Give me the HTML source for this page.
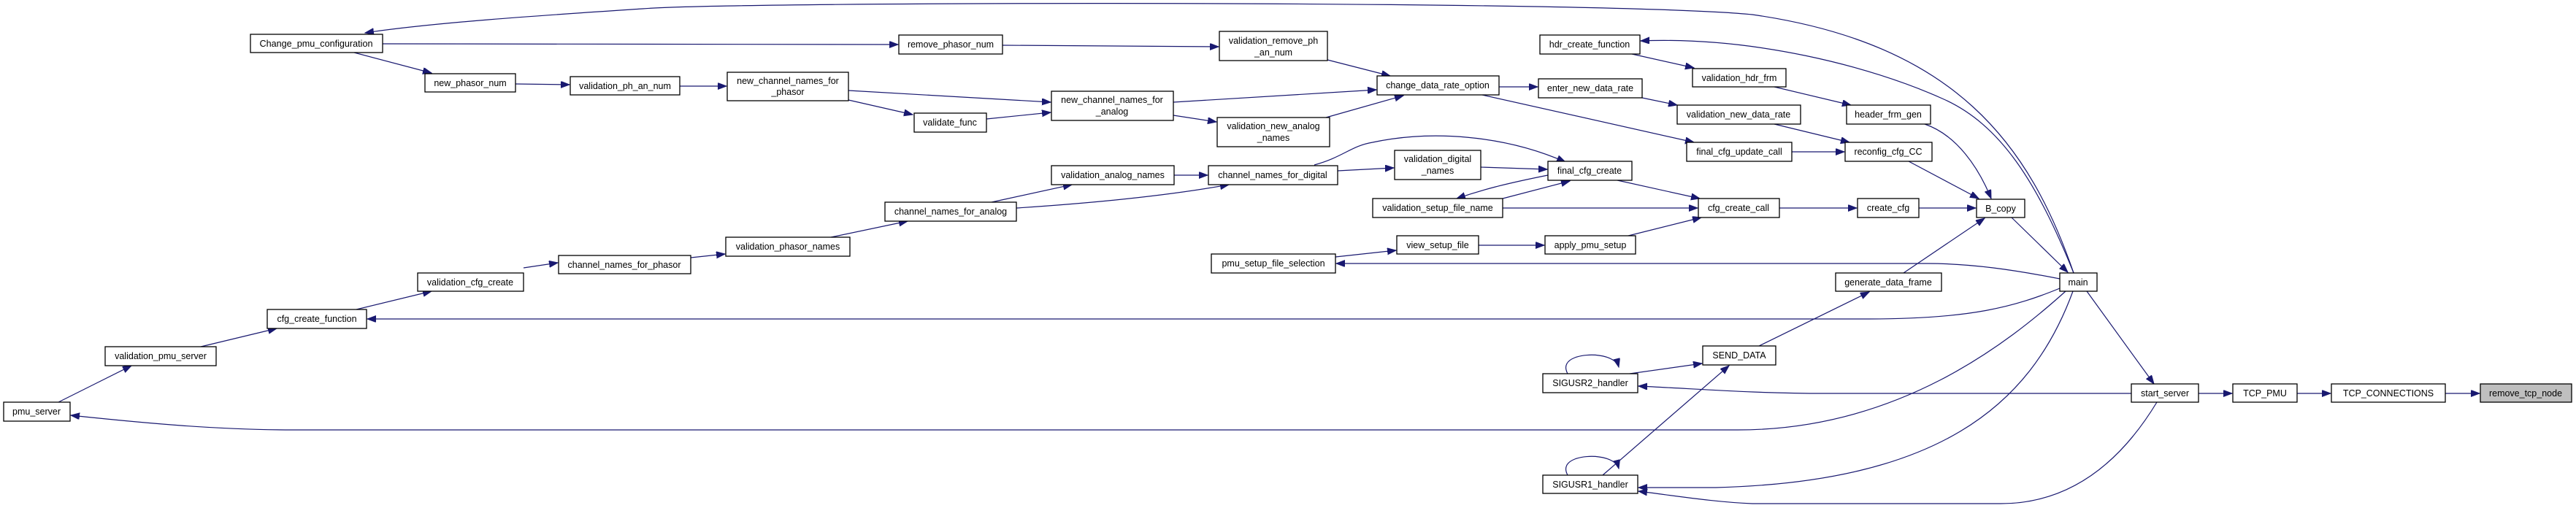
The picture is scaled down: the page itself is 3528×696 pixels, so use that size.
<!DOCTYPE html>
<html><head><meta charset="utf-8"><style>
html,body{margin:0;padding:0;background:#fff;}
svg{display:block;}
text{font-family:"Liberation Sans",Arial,sans-serif;font-size:12.5px;fill:#000;text-anchor:middle;}
.n{fill:#fff;stroke:#000;stroke-width:1.3;}
.e{fill:none;stroke:#191970;stroke-width:1.2;}
</style></head><body>
<svg width="3528" height="696" viewBox="0 0 3528 696" xmlns="http://www.w3.org/2000/svg">
<defs><marker id="a" markerWidth="13" markerHeight="10" refX="12" refY="4.5" orient="auto" markerUnits="userSpaceOnUse"><path d="M0,0 L12,4.5 L0,9 z" fill="#191970" stroke="#191970"/></marker></defs>
<g class="e" marker-end="url(#a)">
<path d="M2840,374 C2780,200 2680,60 2400,20 C2200,0 1000,2 880,12 C760,20 600,30 500,45"/>
<path d="M524,60 L1230,61"/>
<path d="M485,72 L591,100"/>
<path d="M706,115 L780,116"/>
<path d="M931,118 L995,118"/>
<path d="M1373,62 L1669,64"/>
<path d="M1818,82 L1904,104"/>
<path d="M1162,124 L1439,140"/>
<path d="M1162,137 L1250,157"/>
<path d="M1351,163 L1439,154"/>
<path d="M1607,140 L1885,123"/>
<path d="M1607,158 L1666,167"/>
<path d="M1816,161 L1922,131"/>
<path d="M2053,119 L2106,119"/>
<path d="M2030,130 L2320,195"/>
<path d="M2235,74 L2320,93"/>
<path d="M2430,119 L2535,144"/>
<path d="M2249,134 L2297,144"/>
<path d="M2430,170 L2533,195"/>
<path d="M2454,208 L2526,208"/>
<path d="M2636,170 C2680,185 2710,230 2727,272"/>
<path d="M2614,221 L2710,272"/>
<path d="M2215,247 L2328,272"/>
<path d="M2058,285 L2325,285"/>
<path d="M2058,272 L2150,248"/>
<path d="M2120,240 C2060,252 2030,260 1995,272"/>
<path d="M2028,229 L2119,232"/>
<path d="M1832,234 L1909,230"/>
<path d="M1800,226 C1840,215 1850,200 1880,195 C1960,178 2060,185 2144,222"/>
<path d="M1608,240 L1654,240"/>
<path d="M1358,277 L1468,253"/>
<path d="M1392,285 C1500,278 1600,268 1683,253"/>
<path d="M1138,325 L1243,303"/>
<path d="M946,353 L993,348"/>
<path d="M717,367 L764,360"/>
<path d="M488,424 L591,399"/>
<path d="M275,475 L379,450"/>
<path d="M80,551 L180,501"/>
<path d="M2821,395 C2760,420 2700,437 2560,437 L503,437"/>
<path d="M2829,399 C2750,470 2600,589 2380,589 L400,589 C300,589 200,580 97,569"/>
<path d="M2437,285 L2543,285"/>
<path d="M2628,285 L2706,285"/>
<path d="M2230,323 L2330,298"/>
<path d="M2025,336 L2115,336"/>
<path d="M1829,352 L1912,343"/>
<path d="M2821,382 C2760,370 2700,361 2640,361 L1830,361"/>
<path d="M2607,374 L2718,299"/>
<path d="M2755,298 L2832,373"/>
<path d="M2409,474 L2560,400"/>
<path d="M2232,512 L2331,498"/>
<path d="M2195,651 L2368,501"/>
<path d="M2147,512 C2135,490 2170,484 2190,487 C2205,489 2215,495 2217,503"/>
<path d="M2147,651 C2135,629 2170,623 2190,626 C2205,628 2215,634 2217,642"/>
<path d="M2919,539 L2500,539 C2400,539 2330,533 2244,529"/>
<path d="M2839,399 C2780,560 2650,660 2350,668 L2244,668"/>
<path d="M2954,551 C2900,640 2830,690 2740,690 L2400,690 C2350,688 2300,680 2244,673"/>
<path d="M2858,399 L2950,526"/>
<path d="M3011,539 L3057,539"/>
<path d="M3146,539 L3192,539"/>
<path d="M3349,539 L3396,539"/>
<path d="M2840,374 C2790,250 2740,170 2660,135 C2560,90 2400,50 2247,56"/>
</g>
<g>
<rect class="n" x="343" y="47" width="181" height="25"/><text x="433" y="64" textLength="155" lengthAdjust="spacingAndGlyphs">Change_pmu_configuration</text>
<rect class="n" x="582" y="101" width="124" height="25"/><text x="644" y="118">new_phasor_num</text>
<rect class="n" x="781" y="105" width="150" height="25"/><text x="856" y="122">validation_ph_an_num</text>
<rect class="n" x="5" y="551" width="91" height="26"/><text x="50" y="568">pmu_server</text>
<rect class="n" x="144" y="475" width="152" height="26"/><text x="220" y="492">validation_pmu_server</text>
<rect class="n" x="366" y="424" width="136" height="26"/><text x="434" y="441">cfg_create_function</text>
<rect class="n" x="572" y="374" width="145" height="25"/><text x="644" y="391">validation_cfg_create</text>
<rect class="n" x="765" y="350" width="181" height="25"/><text x="855" y="367">channel_names_for_phasor</text>
<rect class="n" x="1231" y="48" width="142" height="26"/><text x="1302" y="65">remove_phasor_num</text>
<rect class="n" x="1670" y="43" width="148" height="40"/><text x="1744" y="60">validation_remove_ph</text><text x="1744" y="76">_an_num</text>
<rect class="n" x="996" y="99" width="166" height="39"/><text x="1079" y="115">new_channel_names_for</text><text x="1079" y="130">_phasor</text>
<rect class="n" x="1252" y="155" width="99" height="26"/><text x="1301" y="172">validate_func</text>
<rect class="n" x="1440" y="125" width="167" height="40"/><text x="1523" y="141">new_channel_names_for</text><text x="1523" y="157">_analog</text>
<rect class="n" x="1667" y="161" width="154" height="40"/><text x="1744" y="177">validation_new_analog</text><text x="1744" y="193">_names</text>
<rect class="n" x="1440" y="227" width="168" height="26"/><text x="1524" y="244">validation_analog_names</text>
<rect class="n" x="1655" y="227" width="177" height="26"/><text x="1743" y="244">channel_names_for_digital</text>
<rect class="n" x="1212" y="277" width="180" height="26"/><text x="1302" y="294">channel_names_for_analog</text>
<rect class="n" x="994" y="325" width="170" height="26"/><text x="1079" y="342">validation_phasor_names</text>
<rect class="n" x="1659" y="348" width="170" height="26"/><text x="1744" y="365">pmu_setup_file_selection</text>
<rect class="n" x="1886" y="104" width="167" height="26"/><text x="1969" y="121">change_data_rate_option</text>
<rect class="n" x="2109" y="48" width="137" height="26"/><text x="2177" y="65">hdr_create_function</text>
<rect class="n" x="2318" y="94" width="128" height="25"/><text x="2382" y="111">validation_hdr_frm</text>
<rect class="n" x="2107" y="108" width="142" height="26"/><text x="2178" y="125">enter_new_data_rate</text>
<rect class="n" x="2297" y="144" width="169" height="26"/><text x="2381" y="161">validation_new_data_rate</text>
<rect class="n" x="2529" y="144" width="115" height="26"/><text x="2586" y="161">header_frm_gen</text>
<rect class="n" x="2310" y="195" width="144" height="26"/><text x="2382" y="212">final_cfg_update_call</text>
<rect class="n" x="2527" y="195" width="119" height="26"/><text x="2586" y="212">reconfig_cfg_CC</text>
<rect class="n" x="1910" y="206" width="118" height="40"/><text x="1969" y="222">validation_digital</text><text x="1969" y="238">_names</text>
<rect class="n" x="2120" y="221" width="115" height="26"/><text x="2177" y="238">final_cfg_create</text>
<rect class="n" x="1880" y="272" width="178" height="26"/><text x="1969" y="289">validation_setup_file_name</text>
<rect class="n" x="2326" y="272" width="111" height="26"/><text x="2381" y="289">cfg_create_call</text>
<rect class="n" x="2544" y="272" width="84" height="26"/><text x="2586" y="289">create_cfg</text>
<rect class="n" x="1913" y="323" width="112" height="25"/><text x="1969" y="340">view_setup_file</text>
<rect class="n" x="2116" y="323" width="124" height="25"/><text x="2178" y="340">apply_pmu_setup</text>
<rect class="n" x="2514" y="374" width="145" height="25"/><text x="2586" y="391">generate_data_frame</text>
<rect class="n" x="2332" y="474" width="100" height="26"/><text x="2382" y="491">SEND_DATA</text>
<rect class="n" x="2113" y="512" width="130" height="26"/><text x="2178" y="529">SIGUSR2_handler</text>
<rect class="n" x="2113" y="651" width="130" height="25"/><text x="2178" y="668">SIGUSR1_handler</text>
<rect class="n" x="2707" y="273" width="66" height="25"/><text x="2740" y="290">B_copy</text>
<rect class="n" x="2821" y="374" width="51" height="25"/><text x="2846" y="391">main</text>
<rect class="n" x="2919" y="526" width="92" height="25"/><text x="2965" y="543">start_server</text>
<rect class="n" x="3058" y="526" width="88" height="25"/><text x="3102" y="543">TCP_PMU</text>
<rect class="n" x="3193" y="526" width="156" height="25"/><text x="3271" y="543">TCP_CONNECTIONS</text>
<rect x="3397" y="526" width="125" height="25" fill="#bfbfbf" stroke="#000" stroke-width="1.3"/><text x="3459" y="543">remove_tcp_node</text>
</g>
</svg>
</body></html>
